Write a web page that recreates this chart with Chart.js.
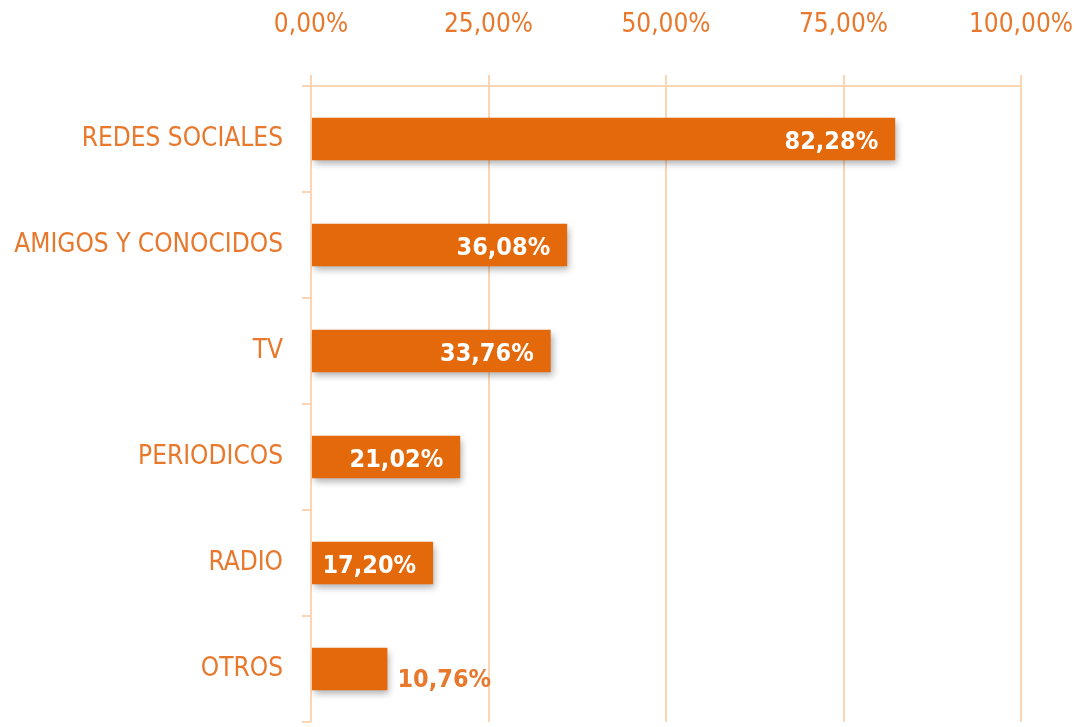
<!DOCTYPE html>
<html>
<head>
<meta charset="utf-8">
<script src="https://cdn.jsdelivr.net/npm/chart.js@4/dist/chart.umd.min.js"></script>
<style>
  html, body { margin: 0; padding: 0; background: #ffffff; }
  #wrap { width: 1075px; height: 727px; position: relative; }
</style>
</head>
<body>
<div id="wrap"><canvas id="c" width="1075" height="727"></canvas></div>
<script>
const categories = ["REDES SOCIALES", "AMIGOS Y CONOCIDOS", "TV", "PERIODICOS", "RADIO", "OTROS"];
const values = [82.28, 36.08, 33.76, 21.02, 17.20, 10.76];
const tickValues = [0, 25, 50, 75, 100];

const BAR = '#E4690B';
const TEXT = '#E8782C';
const GRID = '#FCD5B5';
const FONT = "'DejaVu Sans Condensed', 'Liberation Sans', sans-serif";

function fmt(v) { return v.toFixed(2).replace('.', ',') + '%'; }

const shadowPlugin = {
  id: 'barShadow',
  beforeDatasetsDraw(chart) {
    const ctx = chart.ctx;
    ctx.save();
    ctx.shadowColor = 'rgba(0,0,0,0.32)';
    ctx.shadowBlur = 7;
    ctx.shadowOffsetX = 2;
    ctx.shadowOffsetY = 4;
  },
  afterDatasetsDraw(chart) {
    chart.ctx.restore();
  }
};

const labelPlugin = {
  id: 'valueLabels',
  afterDatasetsDraw(chart) {
    const ctx = chart.ctx;
    const meta = chart.getDatasetMeta(0);
    ctx.save();
    ctx.font = "bold 25px " + FONT;
    ctx.textBaseline = 'middle';
    meta.data.forEach((bar, i) => {
      const txt = fmt(values[i]);
      const w = ctx.measureText(txt).width;
      const barLen = bar.x - bar.base;
      if (w + 20 < barLen) {
        ctx.fillStyle = '#ffffff';
        ctx.textAlign = 'right';
        ctx.fillText(txt, bar.x - 17, bar.y + 3);
      } else {
        ctx.fillStyle = TEXT;
        ctx.textAlign = 'left';
        ctx.fillText(txt, bar.x + 10, bar.y + 11);
      }
    });
    ctx.restore();
  }
};

new Chart(document.getElementById('c'), {
  type: 'bar',
  data: {
    labels: categories,
    datasets: [{
      data: values,
      backgroundColor: BAR,
      borderWidth: 0,
      categoryPercentage: 1.0,
      barPercentage: 0.4
    }]
  },
  options: {
    indexAxis: 'y',
    responsive: false,
    animation: false,
    layout: { padding: { left: 0, right: 54, top: 0, bottom: 5 } },
    plugins: {
      legend: { display: false },
      tooltip: { enabled: false }
    },
    scales: {
      x: {
        position: 'top',
        min: 0,
        max: 100,
        afterFit(scale) {
          scale.height = 86;
          scale.paddingLeft = 0; scale.paddingRight = 0;
        },
        afterBuildTicks(scale) { scale.ticks = tickValues.map(v => ({ value: v })); },
        ticks: {
          color: TEXT,
          font: { family: FONT, size: 26 },
          padding: 34,
          maxRotation: 0,
          callback: (v) => fmt(v)
        },
        grid: { color: GRID, lineWidth: 2, tickLength: 11 },
        border: { color: GRID, width: 2 }
      },
      y: {
        afterFit(scale) {
          scale.width = 311;
          scale.paddingTop = 0; scale.paddingBottom = 0;
        },
        ticks: {
          color: TEXT,
          font: { family: FONT, size: 26 },
          padding: 19
        },
        grid: { color: GRID, lineWidth: 2, tickLength: 9, drawOnChartArea: false, offset: true },
        border: { display: false }
      }
    }
  },
  plugins: [shadowPlugin, labelPlugin]
});
</script>
</body>
</html>
